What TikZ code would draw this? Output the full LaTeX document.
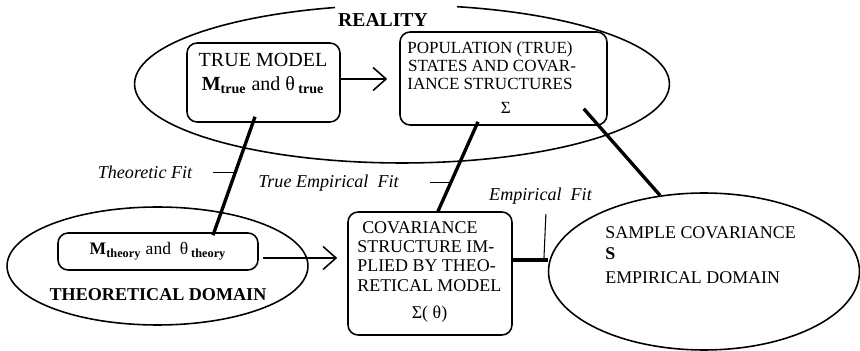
\documentclass[tikz,border=0pt]{standalone}
\usepackage{fontspec}
\setmainfont{Liberation Serif}
\usetikzlibrary{arrows.meta,shapes.geometric,calc}
\tikzset{box/.style={draw, rounded corners=2mm, line width=0.9pt, inner sep=0pt}}
\tikzset{dom/.style={draw, ellipse, line width=0.9pt, inner sep=0pt}}
\tikzset{fitline/.style={line width=1.9pt}}
\tikzset{lead/.style={line width=0.6pt}}
\tikzset{flow/.style={-{Straight Barb[length=2.6mm,width=4.6mm]}, line width=0.9pt}}
\tikzset{hd/.style={font=\fontsize{10.3}{11}\selectfont\bfseries, inner sep=0pt}}
\tikzset{m/.style={font=\fontsize{10.2}{11}\selectfont, inner sep=0pt}}
\tikzset{l/.style={font=\fontsize{10.3}{11}\selectfont\itshape, inner sep=0pt}}

\begin{document}
\begin{tikzpicture}[x=0.02cm,y=-0.02cm]
        \useasboundingbox (0,0) rectangle (860,351);
        % the three domains
        \node[dom, minimum width=10.7cm, minimum height=3.16cm] (reality) at (402,84) {};
        \fill[white] (335,0) rectangle (457,13);
        \node[dom, minimum width=6.02cm, minimum height=2.36cm] (theory) at (157.5,266) {};
        \node[dom, minimum width=6.22cm, minimum height=3.14cm] (sample) at (704,271.5) {};
        \node[hd, font=\fontsize{11.2}{12}\selectfont\bfseries] (realitytxt) at (383,20) {REALITY};
        \node[hd] (theorytxt) at (158,295) {THEORETICAL DOMAIN};
        % boxes
        \node[box, minimum width=3.06cm, minimum height=1.58cm] (truebox) at (263.5,82.5) {};
        \node[m, font=\fontsize{11.4}{12}\selectfont, align=center, anchor=north] (truetxt) at (263,52.5)
          {TRUE MODEL\\[2pt]\textbf{M}\textsubscript{\textbf{true}} and θ\,\textsubscript{\textbf{true}}};
        \node[box, minimum width=4.14cm, minimum height=1.86cm] (popbox) at (503.5,78.5) {};
        \node[m, font=\fontsize{9.7}{10.2}\selectfont, align=center, anchor=north] (poptxt) at (490,41)
          {POPULATION (TRUE)\\ \ STATES AND COVAR-\\IANCE STRUCTURES\\[3.5pt]\hspace*{18pt}Σ};
        \node[box, minimum width=4cm, minimum height=0.74cm] (mtheory) at (158,251.5)
          {\textbf{M}\textsubscript{\textbf{theory}} and~~θ\,\textsubscript{\textbf{theory}}};
        \node[box, minimum width=3.28cm, minimum height=2.46cm] (covbox) at (430,273.5) {};
        \node[m, align=left, anchor=north west] (covtxt) at (357,221)
          {\hspace*{2.8pt}COVARIANCE\\STRUCTURE IM-\\PLIED BY THEO-\\RETICAL MODEL\\[4.5pt]\hspace*{31pt}Σ( θ)};
        \node[m, align=left, anchor=north west] (sampletxt) at (605,226)
          {SAMPLE COVARIANCE\\[1pt]\textbf{S}\\[3pt]EMPIRICAL DOMAIN};
        % arrows
        \draw[flow, shorten >=0.24cm] ($(truebox.east)+(0,-3.5)$) -- ($(truebox.east -| popbox.west)+(0,-3.5)$);
        \draw[flow, shorten <=0.08cm, shorten >=0.2cm] ($(mtheory.east)+(0,6.5)$) -- ($(mtheory.east -| covbox.west)+(0,6.5)$);
        % fit lines
        \coordinate (tf1) at ($(truebox.south)+(-8.5,-6)$);
        \coordinate (tf2) at ($(mtheory.north)+(55,3)$);
        \draw[fitline] (tf1) -- (tf2);
        \coordinate (te1) at ($(popbox.south)+(-25.5,-4)$);
        \coordinate (te2) at ($(covbox.north)+(8,0)$);
        \draw[fitline] (te1) -- (te2);
        \draw[fitline] ($(popbox.south east)+(-24,-17)$) -- (sample.120);
        \coordinate (ef1) at ($(covbox.east)+(0,-13.5)$);
        \draw[fitline] (ef1) -- (ef1 -| sample.west);
        % fit labels
        \node[l] (tfit) at (145,172) {Theoretic Fit};
        \draw[lead] ($(tf1)!0.467!(tf2)$) -- ++(-22,0);
        \node[l] (tefit) at (328.5,183) {True Empirical~~Fit};
        \draw[lead] ($(te1)!0.674!(te2)$) -- ++(-21,0);
        \node[l] (efit) at (540.5,196.5) {Empirical~~Fit};
        \draw[lead] ($(ef1)!0.89!(ef1 -| sample.west)$) -- ++(2,-46);
\end{tikzpicture}
\end{document}
